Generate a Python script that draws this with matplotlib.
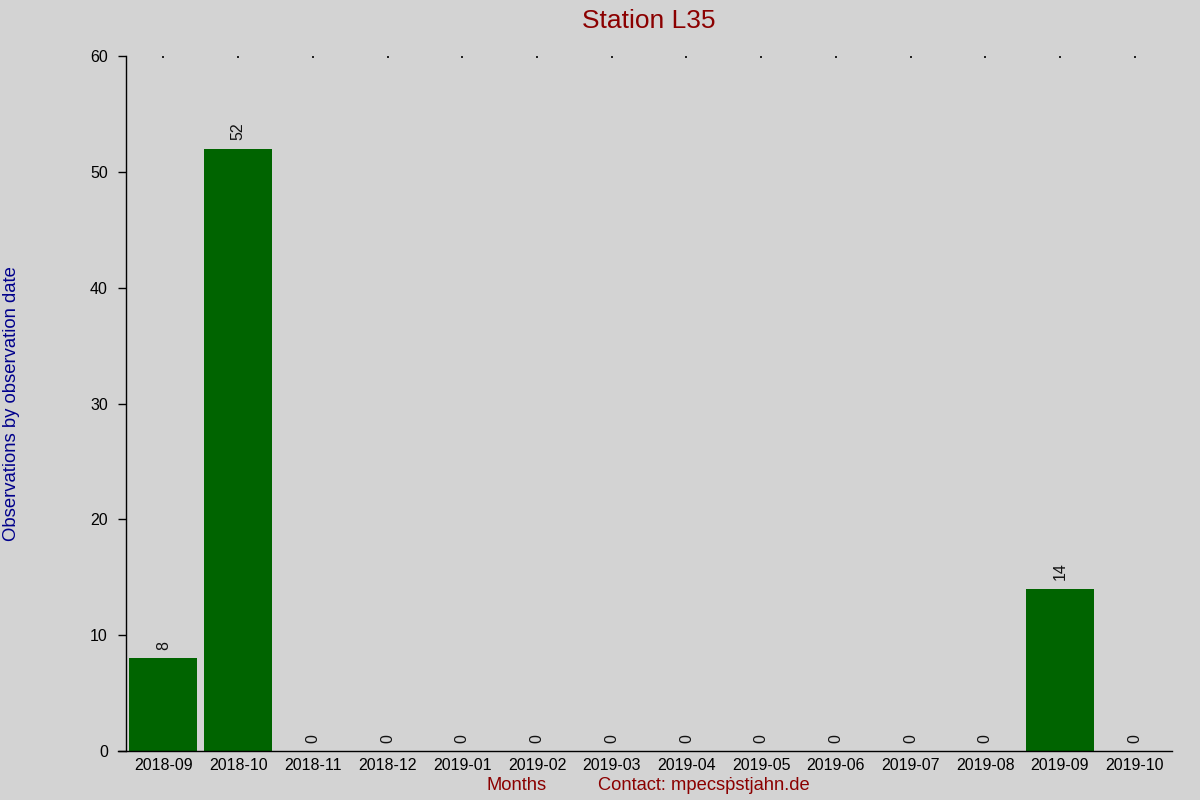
import numpy as np
import matplotlib
matplotlib.use('Agg')
import matplotlib.pyplot as plt

# Data
months = ['2018-09', '2018-10', '2018-11', '2018-12', '2019-01', '2019-02', '2019-03',
          '2019-04', '2019-05', '2019-06', '2019-07', '2019-08', '2019-09', '2019-10']
counts = [8, 52, 0, 0, 0, 0, 0, 0, 0, 0, 0, 0, 14, 0]
y_ticks = [0, 10, 20, 30, 40, 50, 60]

bg = '#d3d3d3'
plt.rcParams['font.family'] = ['Liberation Sans', 'DejaVu Sans']

fig = plt.figure(figsize=(12, 8), dpi=100, facecolor=bg)
ax = fig.add_axes([0.105, 0.06125, 0.8717, 0.86875], facecolor=bg)

x = np.arange(len(months))
ax.bar(x, counts, width=0.91, color='#006400')

# value labels, rotated, just above each bar
for xi, c in zip(x, counts):
    ax.annotate(str(c), (xi, c), xytext=(0, 6), textcoords='offset points',
                rotation=90, ha='center', va='bottom', fontsize=11.5, color='#111111')

ax.set_xlim(-0.5, len(months) - 0.5)
ax.set_ylim(0, 60)
ax.set_yticks(y_ticks)
ax.set_xticks(x)
ax.set_xticklabels(months)

for s in ['top', 'right']:
    ax.spines[s].set_visible(False)
ax.spines['left'].set_linewidth(1)
ax.spines['bottom'].set_linewidth(1)
ax.spines['bottom'].set_bounds(-0.61, len(months) - 0.5)

ax.tick_params(axis='y', length=6, width=1, pad=7, labelsize=11.5, colors='black')
ax.tick_params(axis='x', bottom=False, top=True, length=1.2, width=1.2, direction='in',
               pad=5, labelsize=11.5)

ax.set_title('Station L35', fontsize=19, color='#8b0000', pad=20)
ax.set_ylabel('Observations by observation date', fontsize=13.3, color='#00008b')
ax.yaxis.set_label_coords(-0.101, 0.5)

fig.text(517 / 1200, 1 - 786 / 800, 'Months', fontsize=13.2, color='#8b0000',
         ha='center', va='center')
fig.text(704 / 1200, 1 - 786 / 800, 'Contact: mpecs\u1e57stjahn.de', fontsize=13.2,
         color='#8b0000', ha='center', va='center')

fig.savefig('out.png', dpi=100, facecolor=bg)
